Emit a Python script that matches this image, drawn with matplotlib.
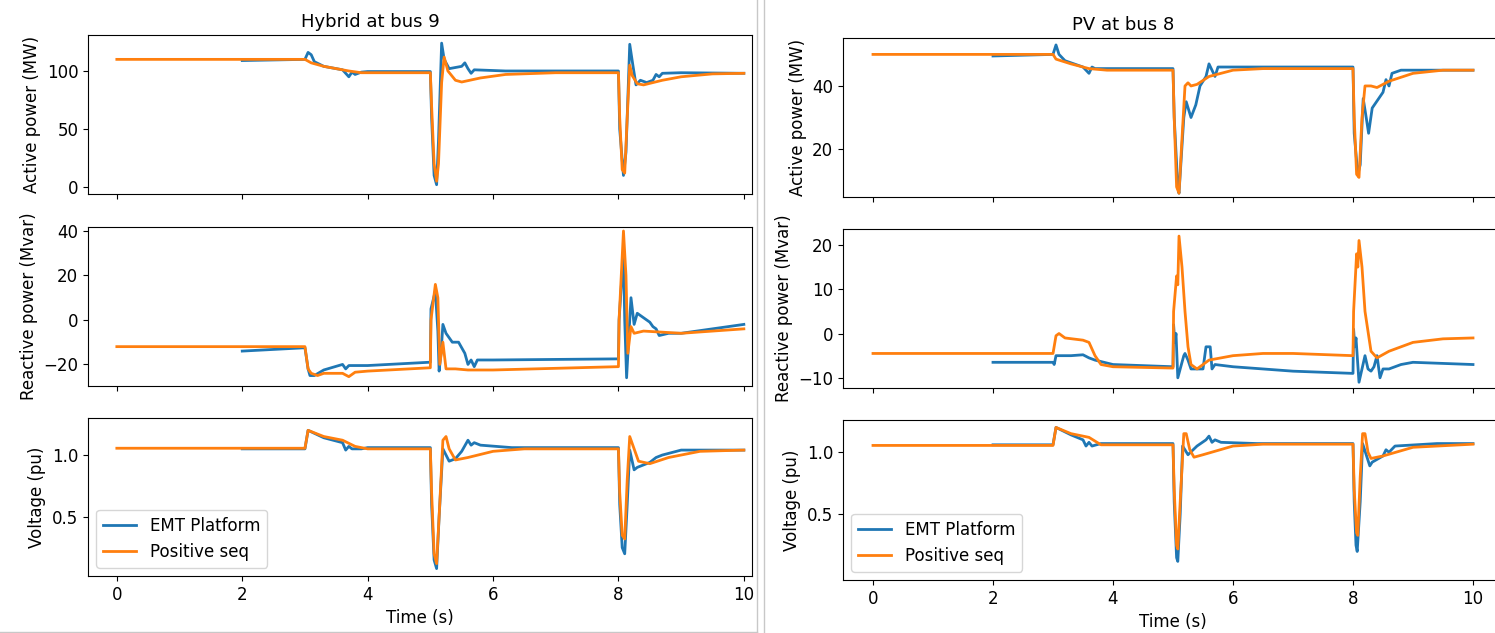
import numpy as np
from matplotlib import pyplot as plt
from matplotlib.lines import Line2D

# --- Hybrid at bus 9 ---
# active power (MW)
hyb_p_emt_t = [2, 3.0, 3.05, 3.1, 3.15, 3.3, 3.6, 3.7, 3.75, 3.8, 3.9, 4, 5.0, 5.02, 5.06, 5.1, 5.13, 5.18, 5.22, 5.3,
               5.4, 5.5, 5.55, 5.6, 5.65, 5.7, 6.2, 8.0, 8.02, 8.08, 8.12, 8.18, 8.23, 8.28, 8.35, 8.45, 8.55, 8.6,
               8.65, 8.7, 9, 10]
hyb_p_emt = [109, 110, 116, 114, 108, 104, 101, 95, 99, 97, 99, 99.5, 99.5, 60, 10, 2, 40, 124, 110, 102,
             103, 104, 107, 102, 98, 101, 100, 100, 50, 10, 30, 123, 105, 88, 92, 90, 92, 97,
             95, 98, 98.5, 98]
hyb_p_pos_t = [0, 3.0, 3.1, 3.3, 3.5, 3.7, 3.9, 5.0, 5.02, 5.06, 5.1, 5.13, 5.18, 5.22, 5.28, 5.4, 5.5, 5.8, 6.2, 7,
               8.0, 8.02, 8.06, 8.1, 8.14, 8.18, 8.22, 8.3, 8.4, 8.7, 9, 9.5, 10]
hyb_p_pos = [110, 110, 107, 104, 102, 100, 98.5, 98.5, 70, 20, 5, 20, 90, 112, 100, 92, 90.5, 94, 97, 98.5,
             98.5, 60, 15, 12, 60, 105, 96, 89, 88, 92, 95, 97.5, 98]

# reactive power (Mvar)
hyb_q_emt_t = [2, 3.0, 3.05, 3.08, 3.15, 3.3, 3.6, 3.65, 3.7, 4, 5, 5.01, 5.08, 5.12, 5.14, 5.17, 5.2, 5.25, 5.35,
               5.45, 5.55, 5.6, 5.65, 5.7, 5.75, 6, 8, 8.01, 8.08, 8.1, 8.13, 8.17, 8.2, 8.25, 8.3, 8.4, 8.5,
               8.55, 8.6, 8.65, 8.8, 9, 10]
hyb_q_emt = [-14, -12.5, -22, -25, -25, -22.5, -20, -22, -20.5, -20.5, -19, 5, 13, -5, -23, -15, -2, -6, -10,
             -10, -15, -20, -18, -21, -18, -18, -17.5, 0, 30, 0, -26, -5, 10, -2, 3, 1, -1,
             -3, -4, -7, -6, -6, -2]
hyb_q_pos_t = [0, 3.0, 3.05, 3.1, 3.2, 3.3, 3.6, 3.7, 3.8, 4.0, 5.0, 5.01, 5.08, 5.12, 5.15, 5.2, 5.25, 5.4, 5.6,
               6.0, 8.0, 8.01, 8.08, 8.12, 8.15, 8.2, 8.25, 8.4, 8.7, 9, 10]
hyb_q_pos = [-12, -12, -22, -24, -25, -24, -24, -25.5, -23.5, -23, -21.5, 0, 16, 10, -20, -10, -22, -22, -22.5,
             -22.5, -21, 0, 40, 20, -15, -3, -6, -5, -5.5, -6, -4]

# voltage (pu)
hyb_v_emt_t = [2, 3, 3.05, 3.3, 3.6, 3.65, 3.7, 3.75, 3.9, 4, 5, 5.02, 5.06, 5.1, 5.14, 5.2, 5.3, 5.4, 5.5, 5.6,
               5.65, 5.7, 5.8, 6.3, 8, 8.02, 8.06, 8.1, 8.14, 8.18, 8.25, 8.3, 8.5, 8.6, 8.7, 9, 10]
hyb_v_emt = [1.05, 1.05, 1.2, 1.14, 1.1, 1.04, 1.07, 1.05, 1.05, 1.06, 1.06, 0.6, 0.15, 0.08, 0.5, 1.05, 0.95,
             0.97, 1.03, 1.12, 1.08, 1.1, 1.08, 1.06, 1.06, 0.6, 0.25, 0.2, 0.6, 1.04, 0.88, 0.9, 0.94, 0.98,
             1.0, 1.04, 1.04]
hyb_v_pos_t = [0, 3.0, 3.05, 3.1, 3.3, 3.6, 3.8, 4, 5, 5.02, 5.06, 5.1, 5.15, 5.2, 5.25, 5.3, 5.4, 5.6, 6, 6.5, 8,
               8.02, 8.06, 8.1, 8.14, 8.18, 8.25, 8.32, 8.5, 8.8, 9.3, 10]
hyb_v_pos = [1.055, 1.055, 1.2, 1.19, 1.15, 1.12, 1.07, 1.05, 1.05, 0.7, 0.2, 0.12, 0.6, 1.12, 1.15, 1.05, 0.96,
             0.98, 1.03, 1.05, 1.05, 0.7, 0.35, 0.32, 0.8, 1.15, 1.05, 0.95, 0.93, 0.98, 1.03, 1.04]

# --- PV at bus 8 ---
pv_p_emt_t = [2, 3.0, 3.05, 3.1, 3.2, 3.5, 3.6, 3.65, 3.7, 4, 5, 5.02, 5.08, 5.1, 5.13, 5.18, 5.22, 5.3, 5.38,
              5.45, 5.55, 5.6, 5.65, 5.7, 5.75, 6, 8, 8.02, 8.08, 8.12, 8.17, 8.22, 8.26, 8.32, 8.5, 8.55, 8.6,
              8.65, 8.8, 10]
pv_p_emt = [49.5, 50, 53, 50, 48, 46, 44, 46, 45.5, 45.5, 45.5, 30, 8, 6, 15, 30, 35, 30, 34,
            40, 43, 47, 45, 43, 46, 46, 46, 25, 12, 15, 36, 30, 25, 33, 38, 42, 40,
            44, 45, 45]
pv_p_pos_t = [0, 3.0, 3.05, 3.3, 3.6, 3.9, 5.0, 5.02, 5.06, 5.1, 5.14, 5.2, 5.25, 5.3, 5.4, 5.6, 6, 6.5, 8, 8.02,
              8.06, 8.1, 8.15, 8.2, 8.3, 8.4, 8.6, 9, 9.5, 10]
pv_p_pos = [50, 50, 48.5, 47, 45.5, 45, 45, 30, 8, 6, 20, 40, 41, 40, 40.5, 43, 45, 45.5, 45.5, 30,
            12, 11, 30, 40, 40, 39.5, 41.5, 44, 45, 45]

pv_q_emt_t = [2, 3, 3.02, 3.05, 3.3, 3.5, 3.6, 3.7, 4, 5, 5.01, 5.03, 5.05, 5.08, 5.12, 5.18, 5.2, 5.25, 5.3, 5.5,
              5.55, 5.62, 5.65, 5.7, 6, 7, 8, 8.01, 8.03, 8.05, 8.1, 8.15, 8.2, 8.25, 8.3, 8.35, 8.4, 8.45,
              8.5, 8.6, 8.8, 9, 10]
pv_q_emt = [-6.5, -6.5, -7, -5, -5, -4.8, -5.5, -6, -7, -7.5, 2, -2, 0, -10, -8, -5, -4.5, -6, -8, -8,
            -3, -3, -8, -7, -7.5, -8.5, -9, 1, -3, -1, -11, -8, -5, -8, -8.5, -7.5, -5, -10,
            -8, -8, -7, -6.5, -7]
pv_q_pos_t = [0, 3.0, 3.05, 3.1, 3.2, 3.5, 3.6, 3.7, 3.8, 4, 5, 5.01, 5.06, 5.08, 5.1, 5.15, 5.2, 5.25, 5.3, 5.4,
              5.6, 6, 6.5, 7, 8, 8.01, 8.06, 8.08, 8.1, 8.15, 8.2, 8.3, 8.4, 8.6, 9, 9.5, 10]
pv_q_pos = [-4.5, -4.5, -0.5, 0, -1, -1.5, -2, -5, -7, -7.5, -7.8, 5, 13, 11, 22, 15, 5, -3, -7, -8,
            -6, -5, -4.5, -4.5, -5, 5, 18, 15, 21, 15, 5, -4, -5.5, -4, -2, -1.2, -1]

pv_v_emt_t = [2, 3, 3.05, 3.3, 3.5, 3.55, 3.6, 3.65, 3.8, 5, 5.02, 5.06, 5.08, 5.12, 5.16, 5.25, 5.4, 5.55, 5.6,
              5.65, 5.7, 5.8, 6.4, 8, 8.02, 8.05, 8.07, 8.12, 8.16, 8.22, 8.28, 8.32, 8.5, 8.55, 8.6, 8.7,
              9.4, 10]
pv_v_emt = [1.06, 1.06, 1.2, 1.14, 1.1, 1.05, 1.08, 1.05, 1.07, 1.07, 0.6, 0.15, 0.12, 0.5, 1.05, 0.98, 1.05,
            1.1, 1.13, 1.08, 1.1, 1.08, 1.07, 1.07, 0.6, 0.25, 0.2, 0.6, 1.07, 0.98, 0.89, 0.92, 0.97, 1.02,
            1.0, 1.05, 1.07, 1.07]
pv_v_pos_t = [0, 3.0, 3.05, 3.3, 3.6, 3.8, 4, 5, 5.02, 5.06, 5.08, 5.12, 5.18, 5.22, 5.28, 5.35, 5.5, 6, 6.5, 8,
              8.02, 8.06, 8.08, 8.12, 8.16, 8.2, 8.25, 8.3, 8.5, 9, 10]
pv_v_pos = [1.055, 1.055, 1.2, 1.15, 1.12, 1.06, 1.06, 1.06, 0.7, 0.25, 0.22, 0.6, 1.15, 1.15, 1.02, 0.96,
            0.98, 1.05, 1.065, 1.065, 0.7, 0.35, 0.33, 0.8, 1.15, 1.15, 1.0, 0.95, 0.97, 1.04, 1.065]

ylabels = ["Active power (MW)", "Reactive power (Mvar)", "Voltage (pu)"]
xticks = [0, 2, 4, 6, 8, 10]

W, H = 1495, 633
fig = plt.figure(figsize=(W / 100, H / 100), dpi=100)


def box(x0, x1, y0, y1):
    # pixel box (top-left origin) -> figure fraction rect
    return [x0 / W, 1 - y1 / H, (x1 - x0) / W, (y1 - y0) / H]


def column(x0, x1, rows, xlim, title, series, ylims, yticks):
    axs = []
    for k, (y0, y1) in enumerate(rows):
        ax = fig.add_axes(box(x0, x1, y0, y1))
        te, ye, tp, yp = series[k]
        ax.plot(te, ye, color="#1f77b4", lw=2, label="EMT Platform")
        ax.plot(tp, yp, color="#ff7f0e", lw=2, label="Positive seq")
        ax.set_xlim(*xlim)
        ax.set_ylim(*ylims[k])
        ax.set_yticks(yticks[k])
        ax.set_xticks(xticks)
        ax.set_ylabel(ylabels[k], fontsize=12)
        ax.tick_params(labelsize=12)
        if k < 2:
            ax.set_xticklabels([])
        axs.append(ax)
    axs[0].set_title(title, fontsize=13, x=0.425)
    axs[-1].set_xlabel("Time (s)", fontsize=12)
    axs[-1].legend(loc="lower left", fontsize=12)
    return axs


column(88, 752, [(35, 194), (227, 386), (418, 576)], (-0.46, 10.13), "Hybrid at bus 9",
       [(hyb_p_emt_t, hyb_p_emt, hyb_p_pos_t, hyb_p_pos),
        (hyb_q_emt_t, hyb_q_emt, hyb_q_pos_t, hyb_q_pos),
        (hyb_v_emt_t, hyb_v_emt, hyb_v_pos_t, hyb_v_pos)],
       [(-6, 131), (-29.7, 41.8), (0.02, 1.30)],
       [[0, 50, 100], [-20, 0, 20, 40], [0.5, 1.0]])

column(843, 1503, [(38, 197), (229, 388), (420, 580)], (-0.5, 10.5), "PV at bus 8",
       [(pv_p_emt_t, pv_p_emt, pv_p_pos_t, pv_p_pos),
        (pv_q_emt_t, pv_q_emt, pv_q_pos_t, pv_q_pos),
        (pv_v_emt_t, pv_v_emt, pv_v_pos_t, pv_v_pos)],
       [(4.8, 55.2), (-12.3, 23.6), (-0.03, 1.26)],
       [[20, 40], [-10, 0, 10, 20], [0.5, 1.0]])

# thin frame lines between the two panels
gray = "#c8c8c8"
fig.add_artist(Line2D([757 / W, 757 / W], [0, 1], color=gray, lw=1))
fig.add_artist(Line2D([764 / W, 764 / W], [0, 1], color=gray, lw=1))
fig.add_artist(Line2D([0, 757 / W], [1 - 632 / H, 1 - 632 / H], color=gray, lw=1))

fig.savefig("out.png", dpi=100)
